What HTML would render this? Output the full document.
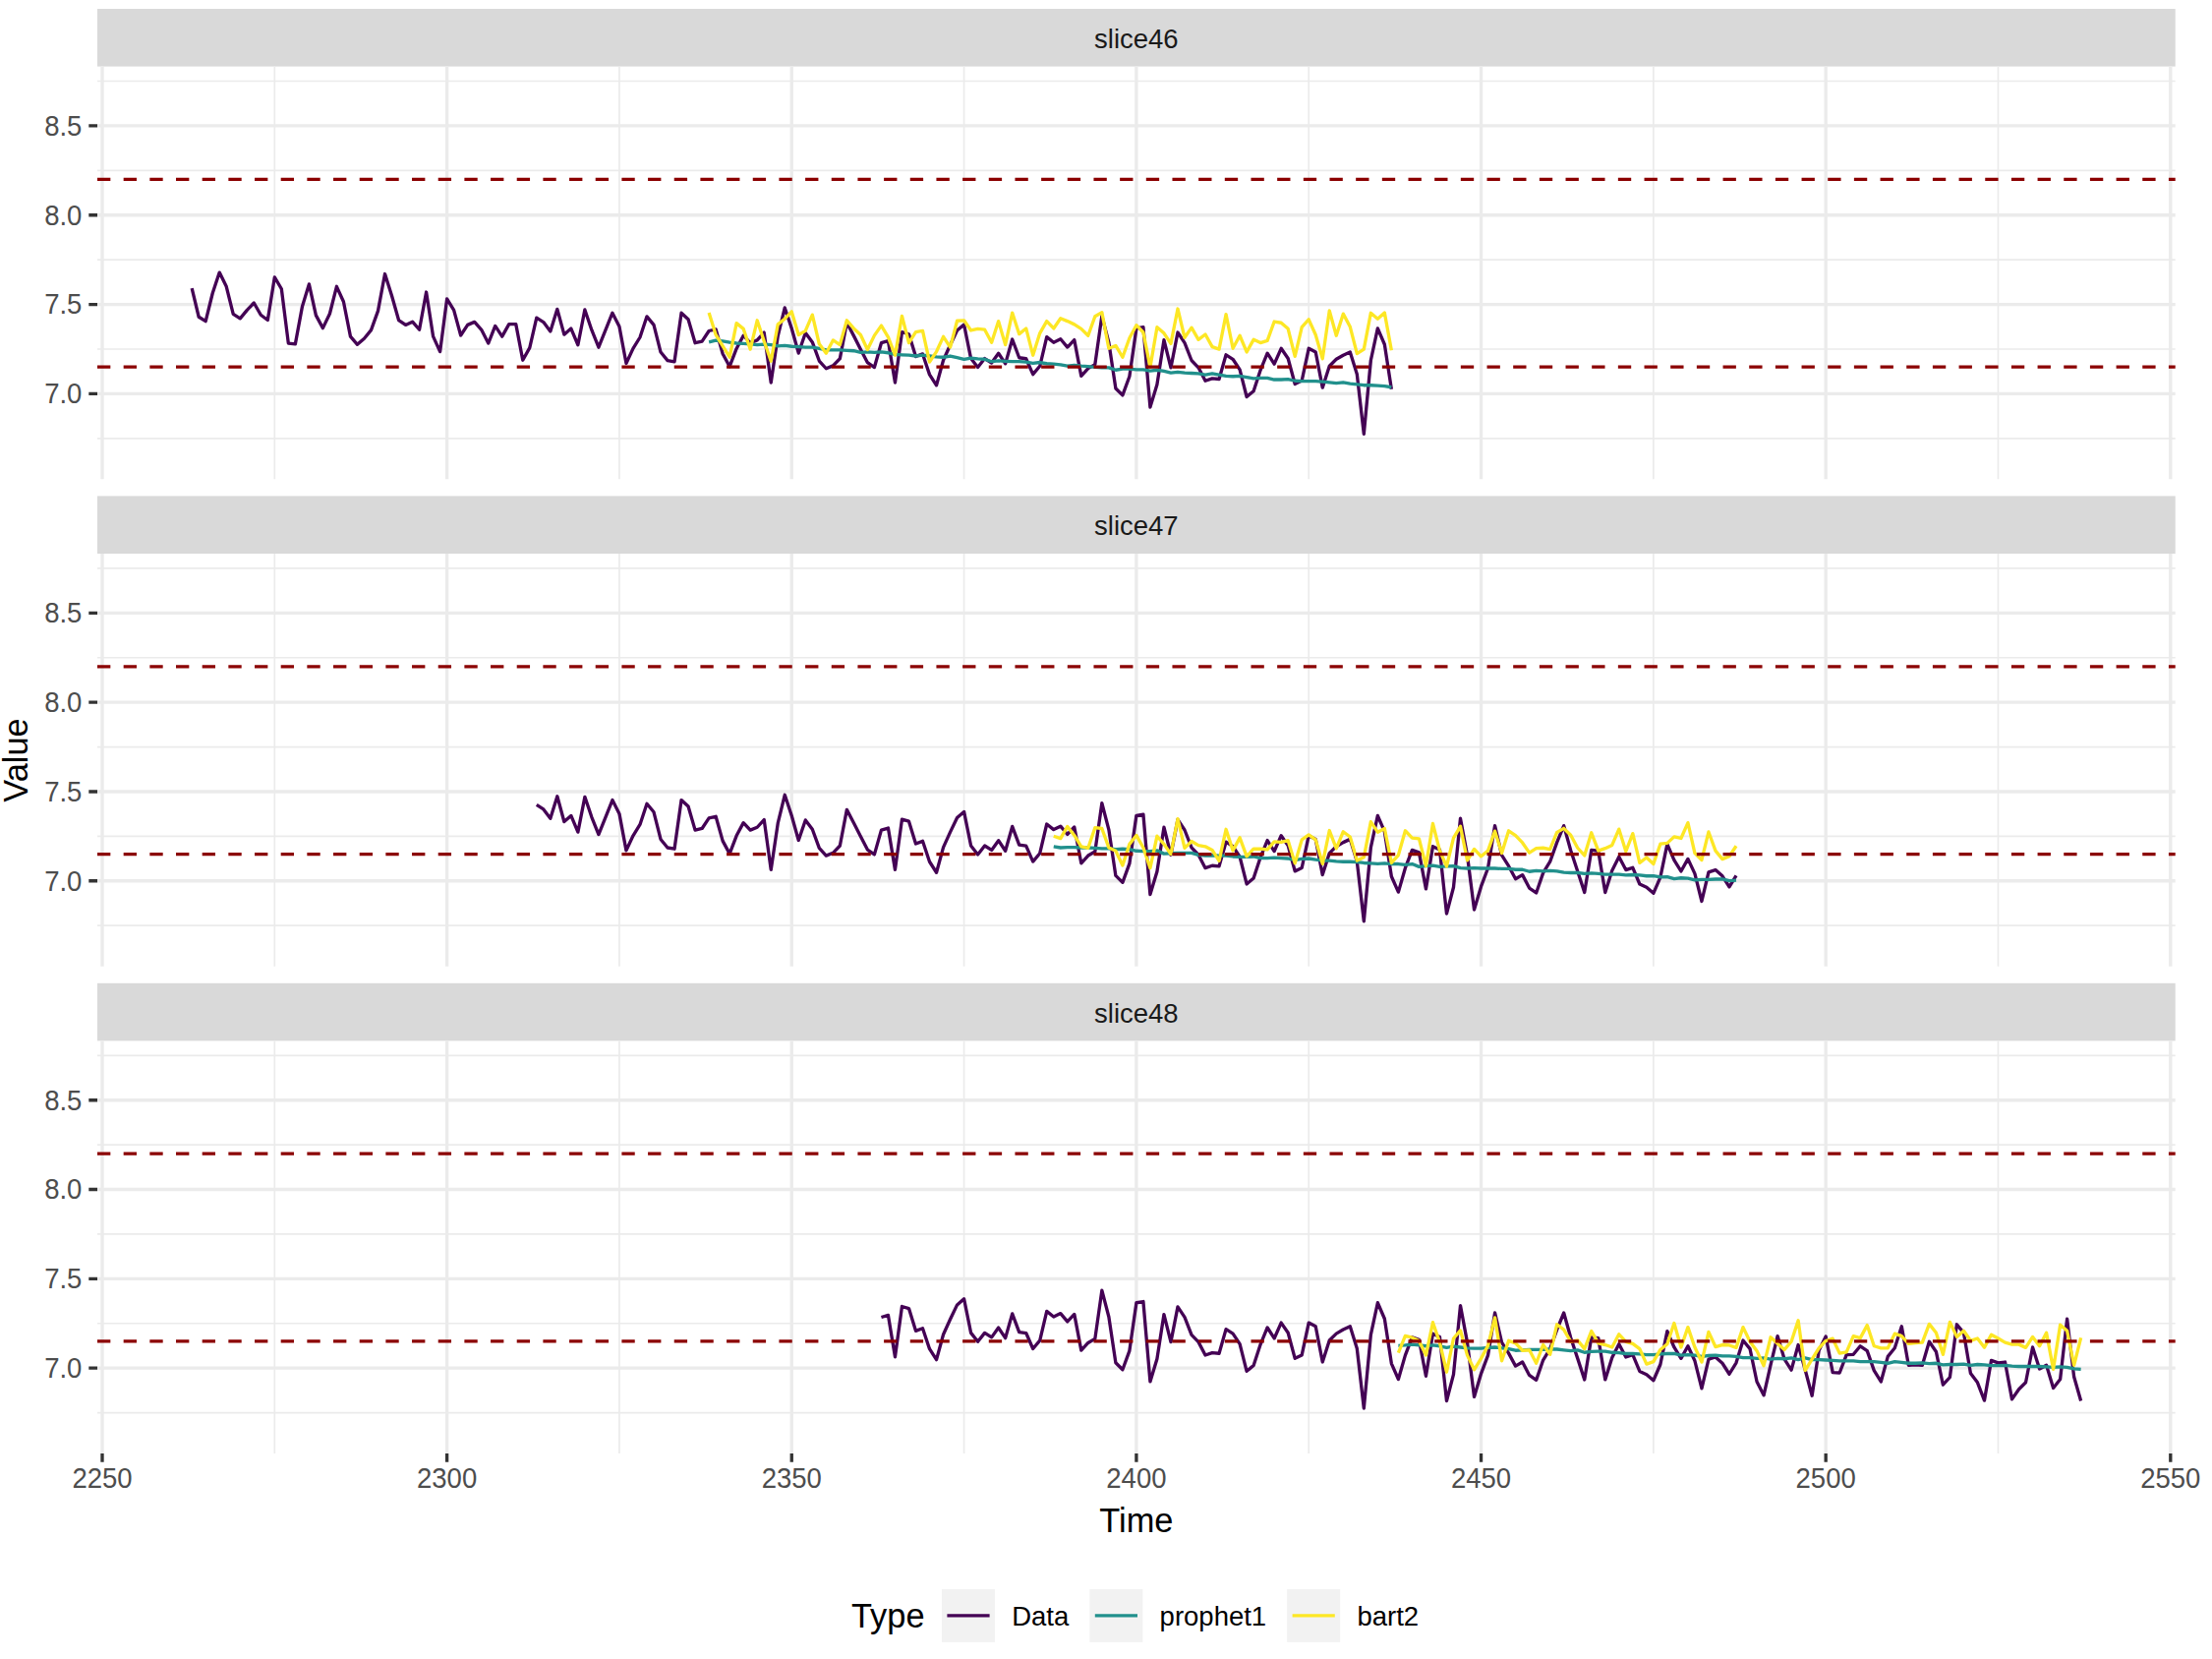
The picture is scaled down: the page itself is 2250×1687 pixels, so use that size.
<!DOCTYPE html><html><head><meta charset="utf-8"><title>plot</title><style>
html,body{margin:0;padding:0;background:#fff;}svg{display:block;}
text{font-family:"Liberation Sans",Arial,sans-serif;}
</style></head><body>
<svg width="2250" height="1687" viewBox="0 0 2250 1687">
<rect x="0" y="0" width="2250" height="1687" fill="#ffffff"/>
<rect x="99.0" y="9.00" width="2113.70" height="58.6" fill="#d9d9d9"/>
<text x="1155.85" y="48.80" font-size="27.5" fill="#1a1a1a" text-anchor="middle">slice46</text>
<path d="M279.32 67.60V487.30M629.95 67.60V487.30M980.59 67.60V487.30M1331.22 67.60V487.30M1681.86 67.60V487.30M2032.49 67.60V487.30M99.0 445.80H2212.7M99.0 354.97H2212.7M99.0 264.15H2212.7M99.0 173.32H2212.7M99.0 82.50H2212.7" stroke="#ebebeb" stroke-width="1.67" fill="none"/>
<path d="M104.00 67.60V487.30M454.63 67.60V487.30M805.27 67.60V487.30M1155.90 67.60V487.30M1506.54 67.60V487.30M1857.17 67.60V487.30M2207.81 67.60V487.30M99.0 400.38H2212.7M99.0 309.56H2212.7M99.0 218.73H2212.7M99.0 127.91H2212.7" stroke="#ebebeb" stroke-width="3.33" fill="none"/>
<polyline points="195.17,293.21 202.18,322.26 209.19,326.72 216.20,298.24 223.22,277.10 230.23,291.32 237.24,319.40 244.25,323.87 251.27,315.33 258.28,308.01 265.29,320.22 272.30,325.51 279.32,281.97 286.33,293.77 293.34,349.10 300.36,349.92 307.37,312.08 314.38,288.89 321.39,320.62 328.41,333.64 335.42,319.00 342.43,291.32 349.44,306.80 356.46,342.18 363.47,350.32 370.48,344.22 377.50,335.68 384.51,316.15 391.52,278.55 398.53,300.69 405.55,325.51 412.56,330.39 419.57,327.14 426.58,335.28 433.60,297.02 440.61,342.18 447.62,357.64 454.63,303.94 461.65,315.33 468.66,340.97 475.67,330.39 482.69,327.38 489.70,335.28 496.71,349.10 503.72,331.45 510.74,342.18 517.75,329.58 524.76,329.58 531.77,366.20 538.79,353.57 545.80,323.07 552.81,327.54 559.83,336.90 566.84,314.35 573.85,340.15 580.86,334.04 587.88,350.74 594.89,314.93 601.90,335.68 608.91,353.17 615.93,335.68 622.94,318.19 629.95,332.01 636.97,369.45 643.98,354.39 650.99,343.00 658.00,321.84 665.02,330.39 672.03,358.06 679.04,366.60 686.05,367.81 693.07,318.19 700.08,324.69 707.09,348.70 714.10,347.07 721.12,336.50 728.13,334.88 735.14,359.69 742.16,372.72 749.17,354.41 756.18,341.22 763.19,348.70 770.21,345.85 777.22,338.13 784.23,388.99 791.24,341.78 798.26,312.90 805.27,334.06 812.28,359.04 819.30,338.53 826.31,347.89 833.32,367.01 840.33,374.75 847.35,371.90 854.36,364.58 861.37,327.96 868.38,341.38 875.40,355.21 882.41,368.65 889.42,373.52 896.44,348.70 903.45,346.67 910.46,388.99 917.47,337.71 924.49,339.75 931.50,362.55 938.51,359.93 945.52,380.86 952.54,391.83 959.55,366.20 966.56,350.74 973.57,336.10 980.59,329.99 987.60,364.58 994.61,373.52 1001.63,364.58 1008.64,369.05 1015.65,359.28 1022.66,369.87 1029.68,345.03 1036.69,363.76 1043.70,364.74 1050.71,380.69 1057.73,372.30 1064.74,342.60 1071.75,348.19 1078.77,344.78 1085.78,353.08 1092.79,345.60 1099.80,382.38 1106.82,374.64 1113.83,370.57 1120.84,321.35 1127.85,348.19 1134.87,394.99 1141.88,401.91 1148.89,382.78 1155.90,333.95 1162.92,332.74 1169.93,414.12 1176.94,390.92 1183.96,345.76 1190.97,373.83 1197.98,338.02 1204.99,348.59 1212.01,366.51 1219.02,373.83 1226.03,387.25 1233.04,384.82 1240.06,385.47 1247.07,360.80 1254.08,365.29 1261.10,375.86 1268.11,403.53 1275.12,397.68 1282.13,376.28 1289.15,359.18 1296.16,370.17 1303.17,354.30 1310.18,364.47 1317.20,390.52 1324.21,387.09 1331.22,354.30 1338.24,357.97 1345.25,394.17 1352.26,372.21 1359.27,365.29 1366.29,361.22 1373.30,357.97 1380.31,380.51 1387.32,441.36 1394.34,366.51 1401.35,333.95 1408.36,350.23 1415.37,395.81" fill="none" stroke="#440154" stroke-width="3.33" stroke-linejoin="round" stroke-linecap="butt"/>
<polyline points="721.12,347.78 728.13,346.14 735.14,346.96 742.16,348.18 749.17,348.99 756.18,349.41 763.19,349.81 770.21,350.63 777.22,350.21 784.23,350.63 791.24,351.85 798.26,351.45 805.27,352.25 812.28,352.66 819.30,353.06 826.31,353.06 833.32,354.28 840.33,355.91 847.35,355.91 854.36,355.91 861.37,356.31 868.38,356.73 875.40,358.35 882.41,357.95 889.42,358.35 896.44,357.95 903.45,358.77 910.46,360.38 917.47,360.80 924.49,361.20 931.50,362.02 938.51,361.20 945.52,362.02 952.54,362.84 959.55,363.24 966.56,362.02 973.57,363.64 980.59,365.27 987.60,364.05 994.61,364.87 1001.63,365.27 1008.64,367.70 1015.65,366.90 1022.66,367.30 1029.68,367.70 1036.69,367.70 1043.70,368.12 1050.71,369.34 1057.73,368.52 1064.74,369.74 1071.75,370.16 1078.77,370.97 1085.78,372.19 1092.79,371.37 1099.80,372.19 1106.82,372.59 1113.83,373.41 1120.84,373.81 1127.85,373.81 1134.87,376.26 1141.88,375.04 1148.89,375.04 1155.90,375.84 1162.92,375.84 1169.93,377.08 1176.94,376.26 1183.96,377.48 1190.97,379.11 1197.98,378.29 1204.99,379.11 1212.01,379.51 1219.02,379.91 1226.03,381.15 1233.04,379.91 1240.06,381.15 1247.07,382.36 1254.08,382.76 1261.10,382.36 1268.11,383.58 1275.12,384.80 1282.13,384.40 1289.15,384.40 1296.16,386.01 1303.17,386.01 1310.18,385.61 1317.20,387.25 1324.21,387.65 1331.22,387.65 1338.24,387.65 1345.25,388.05 1352.26,388.87 1359.27,389.68 1366.29,388.87 1373.30,390.08 1380.31,390.90 1387.32,391.72 1394.34,391.72 1401.35,392.12 1408.36,392.54 1415.37,393.75" fill="none" stroke="#21908c" stroke-width="3.33" stroke-linejoin="round" stroke-linecap="butt"/>
<polyline points="721.12,318.08 728.13,340.46 735.14,351.85 742.16,363.24 749.17,328.65 756.18,334.35 763.19,355.10 770.21,325.80 777.22,346.96 784.23,367.30 791.24,329.87 798.26,324.18 805.27,316.86 812.28,340.46 819.30,336.39 826.31,320.11 833.32,349.81 840.33,359.17 847.35,345.98 854.36,350.63 861.37,325.80 868.38,333.94 875.40,340.46 882.41,355.52 889.42,341.11 896.44,331.10 903.45,342.89 910.46,361.20 917.47,321.33 924.49,348.59 931.50,337.60 938.51,336.39 945.52,368.12 952.54,357.55 959.55,342.33 966.56,353.06 973.57,326.22 980.59,325.80 987.60,335.97 994.61,334.35 1001.63,335.17 1008.64,348.18 1015.65,326.61 1022.66,350.63 1029.68,318.08 1036.69,339.64 1043.70,333.94 1050.71,361.20 1057.73,338.82 1064.74,326.61 1071.75,333.94 1078.77,323.76 1085.78,326.61 1092.79,329.87 1099.80,334.35 1106.82,341.27 1113.83,321.73 1120.84,317.66 1127.85,354.28 1134.87,351.45 1141.88,363.24 1148.89,343.71 1155.90,330.68 1162.92,338.00 1169.93,373.41 1176.94,332.72 1183.96,338.82 1190.97,349.41 1197.98,314.01 1204.99,343.31 1212.01,333.14 1219.02,345.34 1226.03,340.04 1233.04,352.66 1240.06,355.10 1247.07,319.69 1254.08,354.28 1261.10,341.27 1268.11,357.95 1275.12,345.34 1282.13,348.59 1289.15,346.40 1296.16,327.03 1303.17,328.25 1310.18,334.35 1317.20,362.42 1324.21,332.72 1331.22,324.83 1338.24,340.46 1345.25,364.87 1352.26,315.88 1359.27,341.27 1366.29,319.13 1373.30,332.32 1380.31,359.57 1387.32,355.10 1394.34,318.31 1401.35,324.18 1408.36,318.08 1415.37,356.31" fill="none" stroke="#fde725" stroke-width="3.33" stroke-linejoin="round" stroke-linecap="butt"/>
<path d="M99.0 182.40H2212.7" stroke="#8b0000" stroke-width="3.33" stroke-dasharray="13.335 13.335" fill="none"/>
<path d="M99.0 373.14H2212.7" stroke="#8b0000" stroke-width="3.33" stroke-dasharray="13.335 13.335" fill="none"/>
<text transform="translate(83.4 410.23) scale(1 1.04)" font-size="27.5" fill="#4d4d4d" text-anchor="end">7.0</text>
<text transform="translate(83.4 319.41) scale(1 1.04)" font-size="27.5" fill="#4d4d4d" text-anchor="end">7.5</text>
<text transform="translate(83.4 228.58) scale(1 1.04)" font-size="27.5" fill="#4d4d4d" text-anchor="end">8.0</text>
<text transform="translate(83.4 137.76) scale(1 1.04)" font-size="27.5" fill="#4d4d4d" text-anchor="end">8.5</text>
<path d="M90.30 400.38H99.0M90.30 309.56H99.0M90.30 218.73H99.0M90.30 127.91H99.0" stroke="#333333" stroke-width="3.33" fill="none"/>
<rect x="99.0" y="504.40" width="2113.70" height="58.6" fill="#d9d9d9"/>
<text x="1155.85" y="544.20" font-size="27.5" fill="#1a1a1a" text-anchor="middle">slice47</text>
<path d="M279.32 563.00V982.70M629.95 563.00V982.70M980.59 563.00V982.70M1331.22 563.00V982.70M1681.86 563.00V982.70M2032.49 563.00V982.70M99.0 941.20H2212.7M99.0 850.37H2212.7M99.0 759.55H2212.7M99.0 668.72H2212.7M99.0 577.90H2212.7" stroke="#ebebeb" stroke-width="1.67" fill="none"/>
<path d="M104.00 563.00V982.70M454.63 563.00V982.70M805.27 563.00V982.70M1155.90 563.00V982.70M1506.54 563.00V982.70M1857.17 563.00V982.70M2207.81 563.00V982.70M99.0 895.78H2212.7M99.0 804.96H2212.7M99.0 714.13H2212.7M99.0 623.31H2212.7" stroke="#ebebeb" stroke-width="3.33" fill="none"/>
<polyline points="545.80,818.47 552.81,822.94 559.83,832.30 566.84,809.75 573.85,835.55 580.86,829.44 587.88,846.14 594.89,810.33 601.90,831.08 608.91,848.57 615.93,831.08 622.94,813.59 629.95,827.41 636.97,864.85 643.98,849.79 650.99,838.40 658.00,817.24 665.02,825.79 672.03,853.46 679.04,862.00 686.05,863.21 693.07,813.59 700.08,820.09 707.09,844.10 714.10,842.47 721.12,831.90 728.13,830.28 735.14,855.09 742.16,868.12 749.17,849.81 756.18,836.62 763.19,844.10 770.21,841.25 777.22,833.53 784.23,884.39 791.24,837.18 798.26,808.30 805.27,829.46 812.28,854.44 819.30,833.93 826.31,843.29 833.32,862.41 840.33,870.15 847.35,867.30 854.36,859.98 861.37,823.36 868.38,836.78 875.40,850.61 882.41,864.05 889.42,868.92 896.44,844.10 903.45,842.07 910.46,884.39 917.47,833.11 924.49,835.15 931.50,857.95 938.51,855.33 945.52,876.26 952.54,887.23 959.55,861.60 966.56,846.14 973.57,831.50 980.59,825.39 987.60,859.98 994.61,868.92 1001.63,859.98 1008.64,864.45 1015.65,854.68 1022.66,865.27 1029.68,840.43 1036.69,859.16 1043.70,860.14 1050.71,876.09 1057.73,867.70 1064.74,838.00 1071.75,843.59 1078.77,840.18 1085.78,848.48 1092.79,841.00 1099.80,877.78 1106.82,870.04 1113.83,865.97 1120.84,816.75 1127.85,843.59 1134.87,890.39 1141.88,897.31 1148.89,878.18 1155.90,829.35 1162.92,828.14 1169.93,909.52 1176.94,886.32 1183.96,841.16 1190.97,869.23 1197.98,833.42 1204.99,843.99 1212.01,861.91 1219.02,869.23 1226.03,882.65 1233.04,880.22 1240.06,880.87 1247.07,856.20 1254.08,860.69 1261.10,871.26 1268.11,898.93 1275.12,893.08 1282.13,871.68 1289.15,854.58 1296.16,865.57 1303.17,849.70 1310.18,859.87 1317.20,885.92 1324.21,882.49 1331.22,849.70 1338.24,853.37 1345.25,889.57 1352.26,867.61 1359.27,860.69 1366.29,856.62 1373.30,853.37 1380.31,875.91 1387.32,936.76 1394.34,861.91 1401.35,829.35 1408.36,845.63 1415.37,891.21 1422.39,907.14 1429.40,882.72 1436.41,864.41 1443.43,866.85 1450.44,903.88 1457.45,860.74 1464.46,864.01 1471.48,929.10 1478.49,902.25 1485.50,832.26 1492.51,869.70 1499.53,925.03 1506.54,901.43 1513.55,882.72 1520.57,839.60 1527.58,869.70 1534.59,880.69 1541.60,893.71 1548.62,889.64 1555.63,903.07 1562.64,907.95 1569.65,887.61 1576.67,876.20 1583.68,856.67 1590.69,839.60 1597.71,864.81 1604.72,885.97 1611.73,907.54 1618.74,864.41 1625.76,865.23 1632.77,907.54 1639.78,885.16 1646.79,871.33 1653.81,884.59 1660.82,882.30 1667.83,899.00 1674.84,902.25 1681.86,908.35 1688.87,892.08 1695.88,858.31 1702.90,874.58 1709.91,885.97 1716.92,873.37 1723.93,888.41 1730.95,916.49 1737.96,886.79 1744.97,884.59 1751.98,890.86 1759.00,901.85 1766.01,890.37" fill="none" stroke="#440154" stroke-width="3.33" stroke-linejoin="round" stroke-linecap="butt"/>
<polyline points="1071.75,860.80 1078.77,862.01 1085.78,861.61 1092.79,861.61 1099.80,862.01 1106.82,862.01 1113.83,862.43 1120.84,862.83 1127.85,862.83 1134.87,863.65 1141.88,863.23 1148.89,863.65 1155.90,865.27 1162.92,865.68 1169.93,865.68 1176.94,864.87 1183.96,868.12 1190.97,867.72 1197.98,867.30 1204.99,867.30 1212.01,867.30 1219.02,869.33 1226.03,870.15 1233.04,869.75 1240.06,870.15 1247.07,870.15 1254.08,870.97 1261.10,871.37 1268.11,871.37 1275.12,870.97 1282.13,872.59 1289.15,872.59 1296.16,872.19 1303.17,872.59 1310.18,873.00 1317.20,874.62 1324.21,873.40 1331.22,873.00 1338.24,874.22 1345.25,875.04 1352.26,875.04 1359.27,875.86 1366.29,876.26 1373.30,876.26 1380.31,876.66 1387.32,877.47 1394.34,877.89 1401.35,878.29 1408.36,877.89 1415.37,878.69 1422.39,878.53 1429.40,879.34 1436.41,878.53 1443.43,881.38 1450.44,880.56 1457.45,880.16 1464.46,881.38 1471.48,880.96 1478.49,880.56 1485.50,882.60 1492.51,882.99 1499.53,882.60 1506.54,882.99 1513.55,882.99 1520.57,882.99 1527.58,883.41 1534.59,883.41 1541.60,884.23 1548.62,884.23 1555.63,886.26 1562.64,885.45 1569.65,885.85 1576.67,885.45 1583.68,885.85 1590.69,887.06 1597.71,887.48 1604.72,887.48 1611.73,888.30 1618.74,887.88 1625.76,888.30 1632.77,889.10 1639.78,889.10 1646.79,889.10 1653.81,889.92 1660.82,889.52 1667.83,889.92 1674.84,890.73 1681.86,890.73 1688.87,891.95 1695.88,891.55 1702.90,893.58 1709.91,892.77 1716.92,893.17 1723.93,894.80 1730.95,894.40 1737.96,894.40 1744.97,893.98 1751.98,893.98 1759.00,895.62 1766.01,895.20" fill="none" stroke="#21908c" stroke-width="3.33" stroke-linejoin="round" stroke-linecap="butt"/>
<polyline points="1071.75,850.22 1078.77,852.66 1085.78,840.45 1092.79,849.41 1099.80,860.80 1106.82,862.27 1113.83,841.67 1120.84,842.49 1127.85,862.01 1134.87,865.27 1141.88,879.92 1148.89,858.36 1155.90,849.41 1162.92,862.01 1169.93,882.76 1176.94,850.22 1183.96,858.36 1190.97,868.54 1197.98,832.71 1204.99,862.43 1212.01,855.51 1219.02,859.58 1226.03,860.80 1233.04,864.47 1240.06,875.44 1247.07,843.30 1254.08,864.87 1261.10,851.84 1268.11,870.81 1275.12,863.23 1282.13,863.23 1289.15,863.81 1296.16,855.91 1303.17,856.33 1310.18,854.69 1317.20,877.89 1324.21,853.88 1331.22,848.99 1338.24,853.88 1345.25,878.29 1352.26,844.52 1359.27,862.83 1366.29,845.74 1373.30,851.02 1380.31,875.04 1387.32,871.79 1394.34,835.57 1401.35,846.16 1408.36,842.49 1415.37,877.47 1422.39,869.57 1429.40,844.76 1436.41,852.08 1443.43,852.90 1450.44,880.56 1457.45,837.44 1464.46,865.10 1471.48,880.96 1478.49,852.08 1485.50,840.29 1492.51,874.86 1499.53,863.47 1506.54,870.79 1513.55,865.10 1520.57,845.16 1527.58,867.54 1534.59,844.76 1541.60,849.64 1548.62,856.96 1555.63,867.14 1562.64,862.65 1569.65,862.25 1576.67,863.63 1583.68,846.39 1590.69,842.32 1597.71,849.23 1604.72,862.25 1611.73,869.99 1618.74,846.79 1625.76,865.10 1632.77,862.65 1639.78,859.40 1646.79,843.12 1653.81,865.76 1660.82,847.61 1667.83,877.31 1674.84,872.02 1681.86,878.53 1688.87,858.18 1695.88,857.36 1702.90,850.86 1709.91,852.48 1716.92,836.62 1723.93,867.54 1730.95,874.46 1737.96,845.97 1744.97,865.10 1751.98,873.64 1759.00,870.79 1766.01,860.22" fill="none" stroke="#fde725" stroke-width="3.33" stroke-linejoin="round" stroke-linecap="butt"/>
<path d="M99.0 677.80H2212.7" stroke="#8b0000" stroke-width="3.33" stroke-dasharray="13.335 13.335" fill="none"/>
<path d="M99.0 868.54H2212.7" stroke="#8b0000" stroke-width="3.33" stroke-dasharray="13.335 13.335" fill="none"/>
<text transform="translate(83.4 905.63) scale(1 1.04)" font-size="27.5" fill="#4d4d4d" text-anchor="end">7.0</text>
<text transform="translate(83.4 814.81) scale(1 1.04)" font-size="27.5" fill="#4d4d4d" text-anchor="end">7.5</text>
<text transform="translate(83.4 723.98) scale(1 1.04)" font-size="27.5" fill="#4d4d4d" text-anchor="end">8.0</text>
<text transform="translate(83.4 633.16) scale(1 1.04)" font-size="27.5" fill="#4d4d4d" text-anchor="end">8.5</text>
<path d="M90.30 895.78H99.0M90.30 804.96H99.0M90.30 714.13H99.0M90.30 623.31H99.0" stroke="#333333" stroke-width="3.33" fill="none"/>
<rect x="99.0" y="999.80" width="2113.70" height="58.6" fill="#d9d9d9"/>
<text x="1155.85" y="1039.60" font-size="27.5" fill="#1a1a1a" text-anchor="middle">slice48</text>
<path d="M279.32 1058.40V1478.10M629.95 1058.40V1478.10M980.59 1058.40V1478.10M1331.22 1058.40V1478.10M1681.86 1058.40V1478.10M2032.49 1058.40V1478.10M99.0 1436.60H2212.7M99.0 1345.77H2212.7M99.0 1254.95H2212.7M99.0 1164.12H2212.7M99.0 1073.30H2212.7" stroke="#ebebeb" stroke-width="1.67" fill="none"/>
<path d="M104.00 1058.40V1478.10M454.63 1058.40V1478.10M805.27 1058.40V1478.10M1155.90 1058.40V1478.10M1506.54 1058.40V1478.10M1857.17 1058.40V1478.10M2207.81 1058.40V1478.10M99.0 1391.18H2212.7M99.0 1300.36H2212.7M99.0 1209.53H2212.7M99.0 1118.71H2212.7" stroke="#ebebeb" stroke-width="3.33" fill="none"/>
<polyline points="896.44,1339.50 903.45,1337.47 910.46,1379.79 917.47,1328.51 924.49,1330.55 931.50,1353.35 938.51,1350.73 945.52,1371.66 952.54,1382.63 959.55,1357.00 966.56,1341.54 973.57,1326.90 980.59,1320.79 987.60,1355.38 994.61,1364.32 1001.63,1355.38 1008.64,1359.85 1015.65,1350.08 1022.66,1360.67 1029.68,1335.83 1036.69,1354.56 1043.70,1355.54 1050.71,1371.49 1057.73,1363.10 1064.74,1333.40 1071.75,1338.99 1078.77,1335.58 1085.78,1343.88 1092.79,1336.40 1099.80,1373.18 1106.82,1365.44 1113.83,1361.37 1120.84,1312.15 1127.85,1338.99 1134.87,1385.79 1141.88,1392.71 1148.89,1373.58 1155.90,1324.75 1162.92,1323.54 1169.93,1404.92 1176.94,1381.72 1183.96,1336.56 1190.97,1364.63 1197.98,1328.82 1204.99,1339.39 1212.01,1357.31 1219.02,1364.63 1226.03,1378.05 1233.04,1375.62 1240.06,1376.27 1247.07,1351.60 1254.08,1356.09 1261.10,1366.66 1268.11,1394.33 1275.12,1388.48 1282.13,1367.08 1289.15,1349.98 1296.16,1360.97 1303.17,1345.10 1310.18,1355.27 1317.20,1381.32 1324.21,1377.89 1331.22,1345.10 1338.24,1348.77 1345.25,1384.97 1352.26,1363.01 1359.27,1356.09 1366.29,1352.02 1373.30,1348.77 1380.31,1371.31 1387.32,1432.16 1394.34,1357.31 1401.35,1324.75 1408.36,1341.03 1415.37,1386.61 1422.39,1402.54 1429.40,1378.12 1436.41,1359.81 1443.43,1362.25 1450.44,1399.28 1457.45,1356.14 1464.46,1359.41 1471.48,1424.50 1478.49,1397.65 1485.50,1327.66 1492.51,1365.10 1499.53,1420.43 1506.54,1396.83 1513.55,1378.12 1520.57,1335.00 1527.58,1365.10 1534.59,1376.09 1541.60,1389.11 1548.62,1385.04 1555.63,1398.47 1562.64,1403.35 1569.65,1383.01 1576.67,1371.60 1583.68,1352.07 1590.69,1335.00 1597.71,1360.21 1604.72,1381.37 1611.73,1402.94 1618.74,1359.81 1625.76,1360.63 1632.77,1402.94 1639.78,1380.56 1646.79,1366.73 1653.81,1379.99 1660.82,1377.70 1667.83,1394.40 1674.84,1397.65 1681.86,1403.75 1688.87,1387.48 1695.88,1353.71 1702.90,1369.98 1709.91,1381.37 1716.92,1368.77 1723.93,1383.81 1730.95,1411.89 1737.96,1382.19 1744.97,1379.99 1751.98,1386.26 1759.00,1397.25 1766.01,1385.77 1773.02,1363.06 1780.04,1371.60 1787.05,1404.97 1794.06,1418.81 1801.07,1387.88 1808.09,1358.59 1815.10,1382.19 1822.11,1393.18 1829.12,1367.53 1836.14,1392.76 1843.15,1419.21 1850.16,1373.24 1857.17,1358.99 1864.19,1395.62 1871.20,1396.01 1878.21,1377.70 1885.23,1377.30 1892.24,1368.77 1899.25,1373.64 1906.26,1393.58 1913.28,1404.97 1920.29,1379.34 1927.30,1370.80 1934.31,1348.82 1941.33,1388.29 1948.34,1387.88 1955.35,1388.29 1962.37,1364.28 1969.38,1374.45 1976.39,1408.22 1983.40,1400.50 1990.42,1346.79 1997.43,1355.34 2004.44,1396.43 2011.45,1405.79 2018.47,1424.10 2025.48,1383.41 2032.49,1385.84 2039.51,1385.04 2046.52,1422.88 2053.53,1412.71 2060.54,1405.79 2067.56,1369.98 2074.57,1391.95 2081.58,1388.29 2088.59,1411.49 2095.61,1402.54 2102.62,1341.10 2109.63,1400.08 2116.64,1424.50" fill="none" stroke="#440154" stroke-width="3.33" stroke-linejoin="round" stroke-linecap="butt"/>
<polyline points="1422.39,1368.35 1429.40,1367.95 1436.41,1367.13 1443.43,1367.95 1450.44,1368.77 1457.45,1367.95 1464.46,1368.77 1471.48,1370.38 1478.49,1369.17 1485.50,1369.98 1492.51,1370.80 1499.53,1371.20 1506.54,1371.20 1513.55,1370.38 1520.57,1369.98 1527.58,1370.80 1534.59,1371.60 1541.60,1373.24 1548.62,1372.84 1555.63,1372.42 1562.64,1372.42 1569.65,1372.42 1576.67,1372.02 1583.68,1372.02 1590.69,1372.84 1597.71,1373.64 1604.72,1372.84 1611.73,1375.27 1618.74,1374.45 1625.76,1374.05 1632.77,1374.05 1639.78,1375.27 1646.79,1375.67 1653.81,1376.49 1660.82,1376.49 1667.83,1376.91 1674.84,1377.70 1681.86,1377.70 1688.87,1376.91 1695.88,1376.49 1702.90,1376.49 1709.91,1378.12 1716.92,1377.70 1723.93,1378.12 1730.95,1379.34 1737.96,1378.52 1744.97,1378.12 1751.98,1378.94 1759.00,1378.94 1766.01,1379.34 1773.02,1380.56 1780.04,1380.56 1787.05,1381.37 1794.06,1380.97 1801.07,1382.19 1808.09,1381.37 1815.10,1381.77 1822.11,1380.97 1829.12,1382.59 1836.14,1380.97 1843.15,1382.59 1850.16,1382.59 1857.17,1383.01 1864.19,1383.41 1871.20,1383.81 1878.21,1383.81 1885.23,1383.81 1892.24,1384.63 1899.25,1384.63 1906.26,1384.63 1913.28,1385.44 1920.29,1386.26 1927.30,1384.63 1934.31,1385.44 1941.33,1386.26 1948.34,1386.26 1955.35,1385.84 1962.37,1386.66 1969.38,1386.26 1976.39,1387.88 1983.40,1387.48 1990.42,1387.48 1997.43,1387.08 2004.44,1388.29 2011.45,1387.48 2018.47,1387.88 2025.48,1388.69 2032.49,1388.69 2039.51,1388.29 2046.52,1389.11 2053.53,1389.51 2060.54,1389.51 2067.56,1389.51 2074.57,1389.51 2081.58,1389.91 2088.59,1390.33 2095.61,1389.91 2102.62,1390.33 2109.63,1391.95 2116.64,1392.36" fill="none" stroke="#21908c" stroke-width="3.33" stroke-linejoin="round" stroke-linecap="butt"/>
<polyline points="1422.39,1375.67 1429.40,1358.43 1436.41,1360.21 1443.43,1363.46 1450.44,1378.12 1457.45,1344.75 1464.46,1365.10 1471.48,1395.22 1478.49,1361.03 1485.50,1352.89 1492.51,1378.12 1499.53,1392.76 1506.54,1381.37 1513.55,1368.35 1520.57,1339.87 1527.58,1383.81 1534.59,1363.32 1541.60,1365.92 1548.62,1373.24 1555.63,1372.84 1562.64,1386.26 1569.65,1367.53 1576.67,1377.30 1583.68,1346.79 1590.69,1352.07 1597.71,1364.28 1604.72,1362.90 1611.73,1371.60 1618.74,1353.54 1625.76,1365.92 1632.77,1367.53 1639.78,1369.98 1646.79,1356.80 1653.81,1364.28 1660.82,1366.31 1667.83,1371.60 1674.84,1387.08 1681.86,1384.63 1688.87,1372.42 1695.88,1366.73 1702.90,1345.57 1709.91,1369.98 1716.92,1349.64 1723.93,1369.98 1730.95,1385.04 1737.96,1354.36 1744.97,1369.57 1751.98,1367.53 1759.00,1367.95 1766.01,1370.38 1773.02,1349.64 1780.04,1364.28 1787.05,1373.64 1794.06,1388.69 1801.07,1359.81 1808.09,1366.31 1815.10,1372.42 1822.11,1364.28 1829.12,1342.72 1836.14,1393.58 1843.15,1382.19 1850.16,1370.80 1857.17,1363.46 1864.19,1361.19 1871.20,1376.09 1878.21,1374.87 1885.23,1358.59 1892.24,1360.63 1899.25,1347.60 1906.26,1368.77 1913.28,1370.80 1920.29,1370.80 1927.30,1356.14 1934.31,1358.59 1941.33,1366.31 1948.34,1365.50 1955.35,1365.10 1962.37,1346.39 1969.38,1355.34 1976.39,1377.30 1983.40,1344.35 1990.42,1359.41 1997.43,1353.31 2004.44,1363.32 2011.45,1361.03 2018.47,1370.15 2025.48,1357.21 2032.49,1361.03 2039.51,1365.10 2046.52,1367.13 2053.53,1367.13 2060.54,1370.38 2067.56,1359.41 2074.57,1368.77 2081.58,1355.34 2088.59,1392.36 2095.61,1347.21 2102.62,1353.31 2109.63,1388.29 2116.64,1360.37" fill="none" stroke="#fde725" stroke-width="3.33" stroke-linejoin="round" stroke-linecap="butt"/>
<path d="M99.0 1173.20H2212.7" stroke="#8b0000" stroke-width="3.33" stroke-dasharray="13.335 13.335" fill="none"/>
<path d="M99.0 1363.94H2212.7" stroke="#8b0000" stroke-width="3.33" stroke-dasharray="13.335 13.335" fill="none"/>
<text transform="translate(83.4 1401.03) scale(1 1.04)" font-size="27.5" fill="#4d4d4d" text-anchor="end">7.0</text>
<text transform="translate(83.4 1310.21) scale(1 1.04)" font-size="27.5" fill="#4d4d4d" text-anchor="end">7.5</text>
<text transform="translate(83.4 1219.38) scale(1 1.04)" font-size="27.5" fill="#4d4d4d" text-anchor="end">8.0</text>
<text transform="translate(83.4 1128.56) scale(1 1.04)" font-size="27.5" fill="#4d4d4d" text-anchor="end">8.5</text>
<path d="M90.30 1391.18H99.0M90.30 1300.36H99.0M90.30 1209.53H99.0M90.30 1118.71H99.0" stroke="#333333" stroke-width="3.33" fill="none"/>
<text transform="translate(104.00 1512.8) scale(1 1.04)" font-size="27.5" fill="#4d4d4d" text-anchor="middle">2250</text>
<text transform="translate(454.63 1512.8) scale(1 1.04)" font-size="27.5" fill="#4d4d4d" text-anchor="middle">2300</text>
<text transform="translate(805.27 1512.8) scale(1 1.04)" font-size="27.5" fill="#4d4d4d" text-anchor="middle">2350</text>
<text transform="translate(1155.90 1512.8) scale(1 1.04)" font-size="27.5" fill="#4d4d4d" text-anchor="middle">2400</text>
<text transform="translate(1506.54 1512.8) scale(1 1.04)" font-size="27.5" fill="#4d4d4d" text-anchor="middle">2450</text>
<text transform="translate(1857.17 1512.8) scale(1 1.04)" font-size="27.5" fill="#4d4d4d" text-anchor="middle">2500</text>
<text transform="translate(2207.81 1512.8) scale(1 1.04)" font-size="27.5" fill="#4d4d4d" text-anchor="middle">2550</text>
<path d="M104.00 1478.10V1486.80M454.63 1478.10V1486.80M805.27 1478.10V1486.80M1155.90 1478.10V1486.80M1506.54 1478.10V1486.80M1857.17 1478.10V1486.80M2207.81 1478.10V1486.80" stroke="#333333" stroke-width="3.33" fill="none"/>
<text x="1155.85" y="1557.9" font-size="34.4" fill="#000" text-anchor="middle">Time</text>
<text transform="translate(27.9 773) rotate(-90)" x="0" y="0" font-size="34.4" fill="#000" text-anchor="middle">Value</text>
<text x="866" y="1655.1" font-size="34.4" fill="#000">Type</text>
<rect x="958.0" y="1615.9" width="54" height="54" fill="#f2f2f2"/>
<path d="M963.40 1642.9H1006.60" stroke="#440154" stroke-width="3.33" fill="none"/>
<text x="1029.20" y="1652.7" font-size="27.5" fill="#000">Data</text>
<rect x="1108.4" y="1615.9" width="54" height="54" fill="#f2f2f2"/>
<path d="M1113.80 1642.9H1157.00" stroke="#21908c" stroke-width="3.33" fill="none"/>
<text x="1179.60" y="1652.7" font-size="27.5" fill="#000">prophet1</text>
<rect x="1309.2" y="1615.9" width="54" height="54" fill="#f2f2f2"/>
<path d="M1314.60 1642.9H1357.80" stroke="#fde725" stroke-width="3.33" fill="none"/>
<text x="1380.40" y="1652.7" font-size="27.5" fill="#000">bart2</text>
</svg></body></html>
